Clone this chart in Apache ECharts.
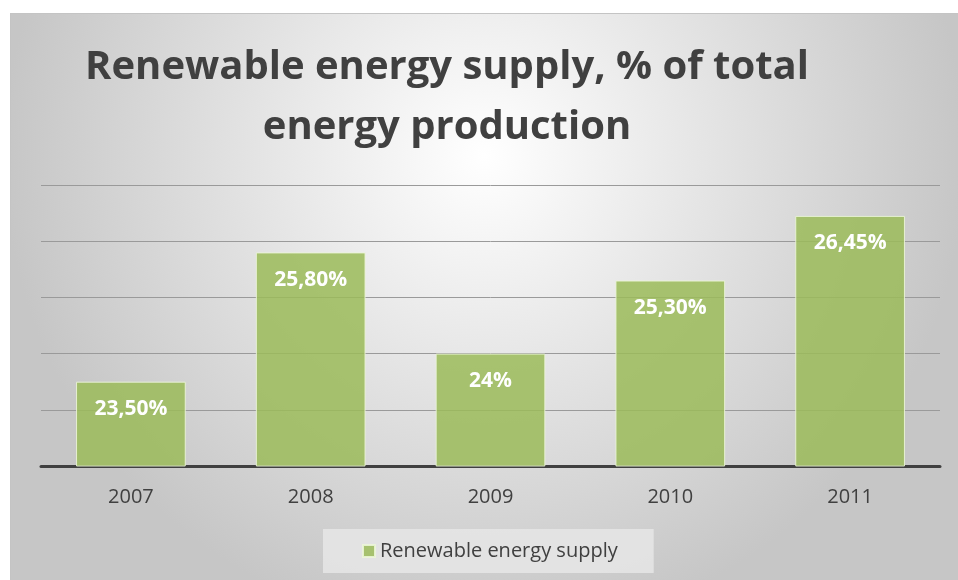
<!DOCTYPE html>
<html>
<head>
<meta charset="utf-8">
<script src="https://cdn.jsdelivr.net/npm/echarts@6/dist/echarts.min.js"></script>
<style>
  html, body { margin: 0; padding: 0; background: #ffffff; }
  #chart { position: absolute; left: 10px; top: 13px; width: 948px; height: 567px; border-top: 1px solid #c4c4c4; border-left: 1px solid #c4c4c4; box-sizing: border-box; }
</style>
</head>
<body>
<div id="chart"></div>
<script>
// Renewable energy share per year
const years = ['2007', '2008', '2009', '2010', '2011'];
const shares = [23.5, 25.8, 24, 25.3, 26.45];
const seriesName = 'Renewable energy supply';
const titleText = 'Renewable energy supply, % of total\nenergy production';

function pct(v) {
  const s = Number.isInteger(v) ? String(v) : v.toFixed(2).replace('.', ',');
  return s + '%';
}

const chart = echarts.init(document.getElementById('chart'));
chart.setOption({
  backgroundColor: {
    type: 'radial', x: 0.5, y: 0.25, r: 0.85,
    colorStops: [
      { offset: 0, color: '#ffffff' },
      { offset: 1, color: '#c6c6c6' }
    ]
  },
  title: {
    text: titleText,
    left: 431, top: 19,
    textAlign: 'center',
    textStyle: {
      fontFamily: 'Open Sans', fontWeight: 'bold', fontSize: 40,
      color: '#404040', lineHeight: 60
    }
  },
  legend: {
    bottom: 7, left: 312,
    padding: [12, 36, 12, 39],
    backgroundColor: 'rgba(230,230,230,0.85)',
    itemWidth: 12, itemHeight: 12, itemGap: 8,
    icon: 'rect',
    textStyle: { fontFamily: 'Open Sans', fontSize: 20, color: '#404040' },
    data: [seriesName]
  },
  grid: { left: 30, right: 18, top: 171, bottom: 114 },
  xAxis: {
    type: 'category',
    data: years,
    axisLine: { lineStyle: { color: '#404040', width: 3 } },
    axisTick: { show: false },
    axisLabel: { fontFamily: 'Open Sans', fontSize: 20, color: '#404040', margin: 21 }
  },
  yAxis: {
    type: 'value',
    min: 22, max: 27, interval: 1,
    axisLine: { show: false },
    axisTick: { show: false },
    axisLabel: { show: false },
    splitLine: { lineStyle: { color: '#9a9a9a', width: 1 } }
  },
  series: [{
    name: seriesName,
    type: 'bar',
    data: shares,
    barWidth: '61%',
    itemStyle: {
      color: 'rgba(155,187,89,0.85)',
      borderColor: 'rgba(235,245,215,0.9)',
      borderWidth: 1
    },
    label: {
      show: true,
      position: 'insideTop',
      distance: 17,
      formatter: p => pct(p.value),
      fontFamily: 'Open Sans', fontWeight: 'bold', fontSize: 21,
      color: '#ffffff'
    }
  }]
});
</script>
</body>
</html>
